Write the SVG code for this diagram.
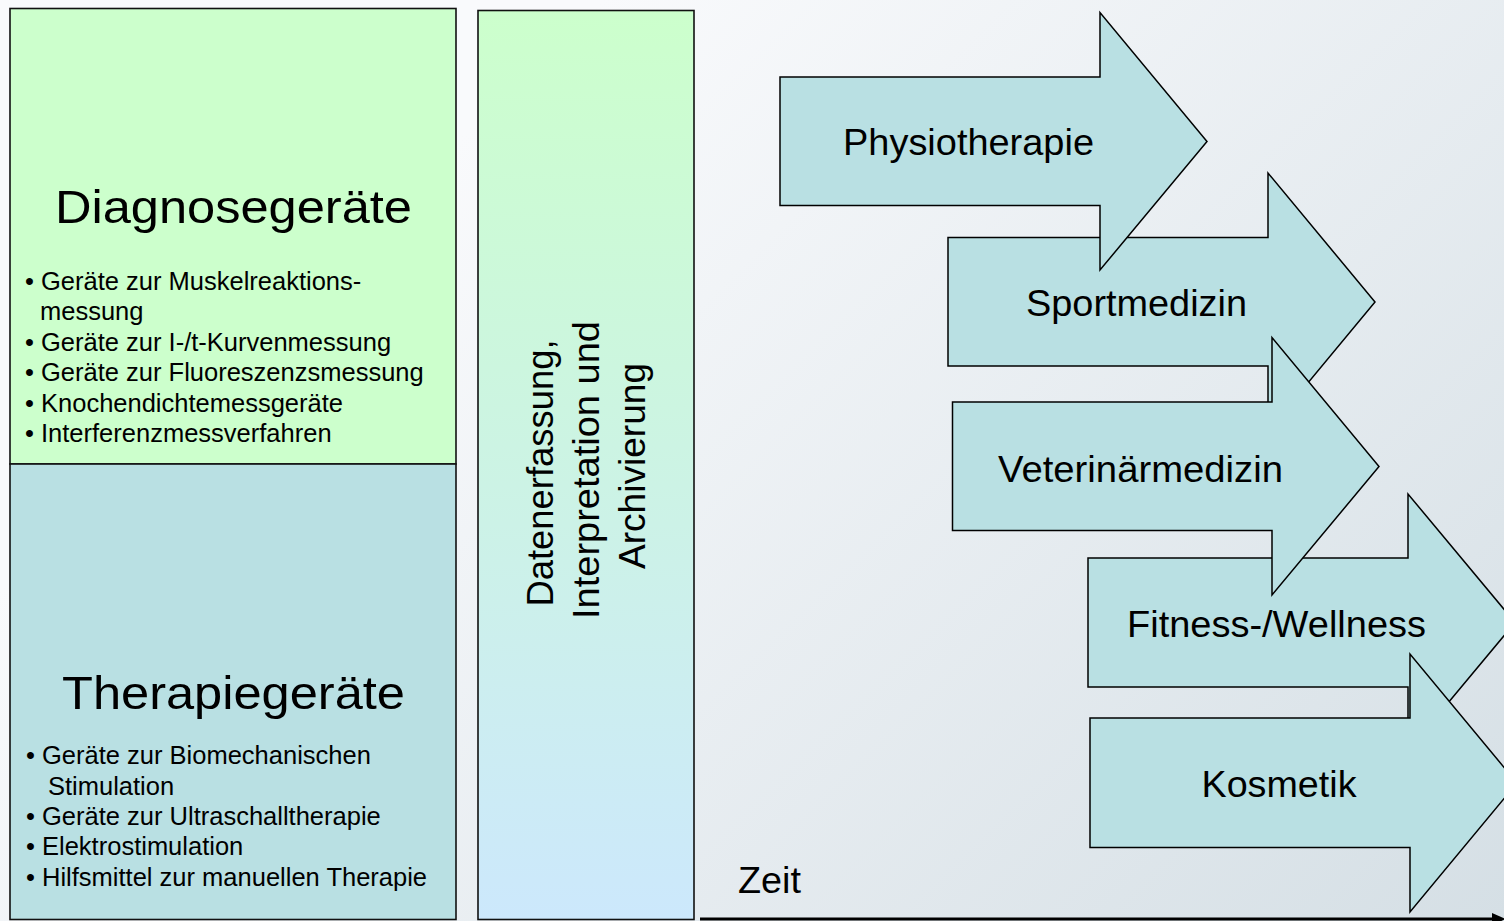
<svg xmlns="http://www.w3.org/2000/svg" width="1504" height="921" viewBox="0 0 1504 921">
  <defs>
    <linearGradient id="bg" gradientUnits="userSpaceOnUse" x1="600" y1="0" x2="1504" y2="921">
      <stop offset="0" stop-color="#f9fafc"/>
      <stop offset="1" stop-color="#d5dfe5"/>
    </linearGradient>
    <linearGradient id="col" x1="0" y1="0" x2="0" y2="1">
      <stop offset="0" stop-color="#ccffcc"/>
      <stop offset="1" stop-color="#cce8fc"/>
    </linearGradient>
    <marker id="ah" markerUnits="userSpaceOnUse" markerWidth="16" markerHeight="14" refX="2" refY="7" orient="auto">
      <path d="M0,1 L14,7 L0,13 Z" fill="#000"/>
    </marker>
    <style>
      .t{font-family:"Liberation Sans",Arial,Helvetica,sans-serif;fill:#000}
      .box{stroke:#111;stroke-width:1.6}
      .arr{fill:#b9e0e3;stroke:#000;stroke-width:1.5;stroke-linejoin:miter}
      .big{font-size:46px;text-anchor:middle}
      .bl{font-size:25.5px}
      .lab{font-size:36px;text-anchor:middle}
      .mid{font-size:37px;text-anchor:middle}
    </style>
  </defs>

  <rect x="0" y="0" width="1504" height="921" fill="url(#bg)"/>

  <g id="diagnose">
    <rect class="box" x="10" y="8.5" width="446" height="455.5" fill="#ccffcc"/>
    <text class="t big" x="233.5" y="223" textLength="357" lengthAdjust="spacingAndGlyphs">Diagnosegeräte</text>
    <text class="t bl" x="25" y="290">• Geräte zur Muskelreaktions-</text>
    <text class="t bl" x="40" y="320">messung</text>
    <text class="t bl" x="25" y="351">• Geräte zur I-/t-Kurvenmessung</text>
    <text class="t bl" x="25" y="381">• Geräte zur Fluoreszenzsmessung</text>
    <text class="t bl" x="25" y="412">• Knochendichtemessgeräte</text>
    <text class="t bl" x="25" y="442">• Interferenzmessverfahren</text>
  </g>

  <g id="therapie">
    <rect class="box" x="10" y="464" width="446" height="455.5" fill="#b9e0e3"/>
    <text class="t big" x="233.5" y="709" textLength="343" lengthAdjust="spacingAndGlyphs">Therapiegeräte</text>
    <text class="t bl" x="26" y="764">• Geräte zur Biomechanischen</text>
    <text class="t bl" x="48" y="795">Stimulation</text>
    <text class="t bl" x="26" y="825">• Geräte zur Ultraschalltherapie</text>
    <text class="t bl" x="26" y="855">• Elektrostimulation</text>
    <text class="t bl" x="26" y="886">• Hilfsmittel zur manuellen Therapie</text>
  </g>

  <g id="daten">
    <rect class="box" x="478" y="10.5" width="216" height="909" fill="url(#col)"/>
    <text class="t mid" transform="translate(553,473) rotate(-90)" textLength="267" lengthAdjust="spacingAndGlyphs">Datenerfassung,</text>
    <text class="t mid" transform="translate(599,470) rotate(-90)" textLength="298" lengthAdjust="spacingAndGlyphs">Interpretation und</text>
    <text class="t mid" transform="translate(645,466) rotate(-90)" textLength="206" lengthAdjust="spacingAndGlyphs">Archivierung</text>
  </g>

  <g id="sportmedizin">
    <path class="arr" d="M948,237.5 L1268,237.5 L1268,173 L1375,302 L1268,431 L1268,366 L948,366 Z"/>
    <text class="t lab" x="1136.5" y="315.5" textLength="221" lengthAdjust="spacingAndGlyphs">Sportmedizin</text>
  </g>

  <g id="fitness">
    <path class="arr" d="M1088,558 L1408,558 L1408,494 L1515,622.5 L1408,751 L1408,687 L1088,687 Z"/>
    <text class="t lab" x="1276.5" y="636.5" textLength="299" lengthAdjust="spacingAndGlyphs">Fitness-/Wellness</text>
  </g>

  <g id="physiotherapie">
    <path class="arr" d="M780,77 L1100,77 L1100,12.5 L1207,141.5 L1100,270 L1100,205.5 L780,205.5 Z"/>
    <text class="t lab" x="968.5" y="155" textLength="251" lengthAdjust="spacingAndGlyphs">Physiotherapie</text>
  </g>

  <g id="veterinaermedizin">
    <path class="arr" d="M952.5,402 L1272,402 L1272,337.5 L1379,466.5 L1272,595 L1272,530.5 L952.5,530.5 Z"/>
    <text class="t lab" x="1140.5" y="481.5" textLength="285" lengthAdjust="spacingAndGlyphs">Veterinärmedizin</text>
  </g>

  <g id="kosmetik">
    <path class="arr" d="M1090,718 L1410,718 L1410,654 L1517,783 L1410,912 L1410,847.5 L1090,847.5 Z"/>
    <text class="t lab" x="1279" y="796.5" textLength="155" lengthAdjust="spacingAndGlyphs">Kosmetik</text>
  </g>

  <g id="zeit">
    <text class="t" x="738" y="893" font-size="36" textLength="63" lengthAdjust="spacingAndGlyphs">Zeit</text>
  </g>

  <g id="connectors">
    <line x1="700" y1="919" x2="1494" y2="919" stroke="#000" stroke-width="3" marker-end="url(#ah)"/>
  </g>
</svg>
